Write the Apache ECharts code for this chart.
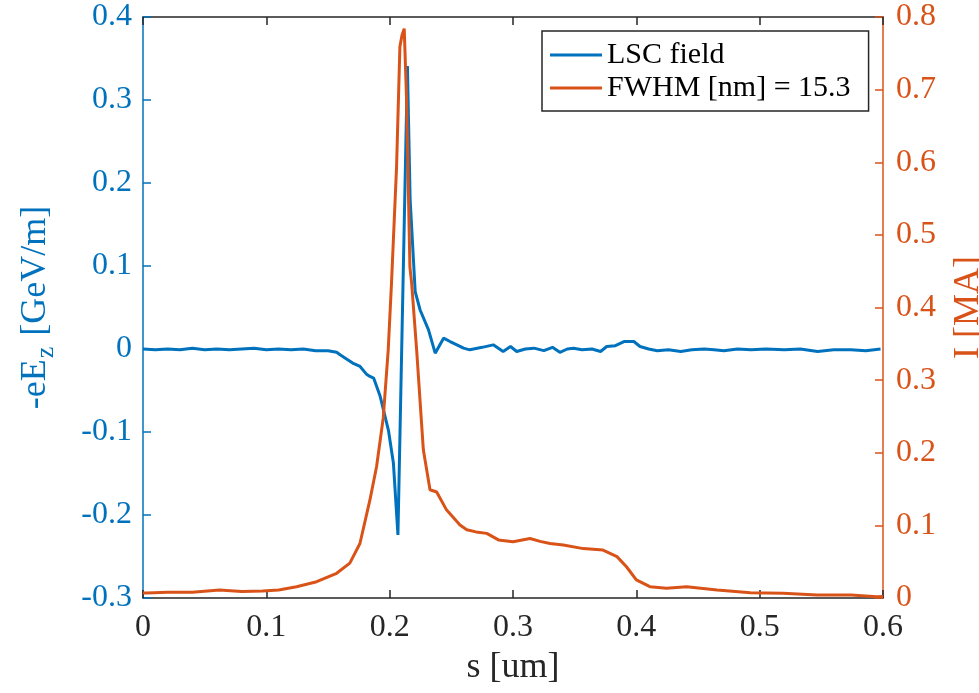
<!DOCTYPE html>
<html>
<head>
<meta charset="utf-8">
<script src="https://cdn.jsdelivr.net/npm/echarts@6/dist/echarts.min.js"></script>
<style>
html,body{margin:0;padding:0;background:#fff;}
#chart{width:979px;height:693px;}
</style>
</head>
<body>
<div id="chart"></div>
<script>
// ---- data ----
const fieldS = [0, 0.01, 0.02, 0.03, 0.04, 0.05, 0.06, 0.07, 0.08, 0.09, 0.10, 0.11, 0.12, 0.13, 0.14, 0.15, 0.157, 0.1598, 0.165, 0.170, 0.176, 0.181, 0.184, 0.187, 0.1923, 0.199, 0.203, 0.2067, 0.2144, 0.2166, 0.2207, 0.2247, 0.2315, 0.2369, 0.2437, 0.249, 0.2545, 0.2599, 0.265, 0.275, 0.284, 0.292, 0.298, 0.303, 0.310, 0.317, 0.325, 0.332, 0.338, 0.344, 0.349, 0.356, 0.364, 0.371, 0.376, 0.383, 0.390, 0.398, 0.403, 0.410, 0.417, 0.426, 0.436, 0.445, 0.455, 0.463, 0.471, 0.482, 0.493, 0.505, 0.520, 0.533, 0.547, 0.560, 0.574, 0.586, 0.598];
const fieldV = [0.000, -0.001, 0.000, -0.001, 0.001, -0.001, 0.000, -0.001, 0.000, 0.001, -0.001, 0.000, -0.001, 0.000, -0.002, -0.002, -0.004, -0.007, -0.012, -0.017, -0.021, -0.030, -0.033, -0.035, -0.057, -0.098, -0.137, -0.224, 0.341, 0.180, 0.069, 0.047, 0.023, -0.005, 0.013, 0.009, 0.005, 0.001, -0.001, 0.002, 0.005, -0.003, 0.003, -0.003, 0.000, 0.001, -0.002, 0.002, -0.004, 0.000, 0.001, -0.001, 0.000, -0.003, 0.003, 0.004, 0.009, 0.009, 0.003, 0.000, -0.002, -0.001, -0.003, -0.001, 0.000, -0.001, -0.002, 0.000, -0.001, 0.000, -0.001, 0.000, -0.003, -0.001, -0.001, -0.002, 0.000];

const currentS = [0, 0.003, 0.02, 0.04, 0.062, 0.08, 0.097, 0.11, 0.1245, 0.1408, 0.157, 0.1677, 0.1759, 0.184, 0.1894, 0.1948, 0.1988, 0.2015, 0.2056, 0.2083, 0.210, 0.2118, 0.2137, 0.2164, 0.2178, 0.2219, 0.2273, 0.2327, 0.2381, 0.2462, 0.2520, 0.2570, 0.2625, 0.2700, 0.2787, 0.2882, 0.300, 0.3138, 0.322, 0.330, 0.3408, 0.357, 0.365, 0.373, 0.3843, 0.392, 0.400, 0.411, 0.4245, 0.4408, 0.4655, 0.4925, 0.519, 0.5466, 0.574, 0.595, 0.600];
const currentV = [0.007, 0.007, 0.008, 0.008, 0.011, 0.009, 0.0096, 0.011, 0.0156, 0.0224, 0.034, 0.048, 0.075, 0.135, 0.181, 0.248, 0.341, 0.434, 0.594, 0.759, 0.775, 0.784, 0.686, 0.456, 0.434, 0.341, 0.204, 0.149, 0.146, 0.121, 0.110, 0.1005, 0.094, 0.091, 0.089, 0.080, 0.0775, 0.082, 0.078, 0.075, 0.073, 0.068, 0.067, 0.066, 0.057, 0.043, 0.025, 0.0156, 0.0134, 0.0156, 0.011, 0.0073, 0.0065, 0.0041, 0.0041, 0.0018, 0.002];

const legendNames = ['LSC field', 'FWHM [nm] = 15.3'];

const BLUE = '#0072BD';
const ORANGE = '#D95319';
const DARK = '#262626';
const FONT = '"Liberation Serif", "Times New Roman", serif';

const fieldData = fieldS.map((s, i) => [s, fieldV[i]]);
const currentData = currentS.map((s, i) => [s, currentV[i]]);

const chart = echarts.init(document.getElementById('chart'), null, {renderer: 'canvas'});
chart.setOption({
  animation: false,
  backgroundColor: '#ffffff',
  grid: {left: 143, right: 96, top: 17, bottom: 95, containLabel: false, outerBoundsMode: 'none'},
  legend: {
    data: legendNames.map(n => ({name: n, icon: 'rect'})),
    orient: 'vertical',
    left: 542,
    top: 31,
    itemWidth: 52,
    itemHeight: 3,
    itemGap: 3,
    itemTextGap: 5,
    padding: [9, 18, 8, 8],
    backgroundColor: '#ffffff',
    borderColor: DARK,
    borderWidth: 1.5,
    textStyle: {fontFamily: FONT, fontSize: 30, color: '#000', lineHeight: 30}
  },
  xAxis: [
    {
      type: 'value', min: 0, max: 0.6, interval: 0.1, position: 'bottom',
      axisLine: {show: true, onZero: false, lineStyle: {color: DARK, width: 1.5}},
      axisTick: {show: true, inside: true, length: 8, lineStyle: {color: DARK, width: 1.5}},
      axisLabel: {fontFamily: FONT, fontSize: 32, color: DARK, margin: 14},
      splitLine: {show: false},
      name: 's [um]', nameLocation: 'middle', nameGap: 52,
      nameTextStyle: {fontFamily: FONT, fontSize: 36, color: DARK}
    },
    {
      type: 'value', min: 0, max: 0.6, interval: 0.1, position: 'top',
      axisLine: {show: true, onZero: false, lineStyle: {color: DARK, width: 1.5}},
      axisTick: {show: true, inside: true, length: 8, lineStyle: {color: DARK, width: 1.5}},
      axisLabel: {show: false},
      splitLine: {show: false}
    }
  ],
  yAxis: [
    {
      type: 'value', min: -0.3, max: 0.4, interval: 0.1, position: 'left',
      axisLine: {show: true, onZero: false, lineStyle: {color: BLUE, width: 1.5}},
      axisTick: {show: true, inside: true, length: 8, lineStyle: {color: BLUE, width: 1.5}},
      axisLabel: {fontFamily: FONT, fontSize: 32, color: BLUE, margin: 11},
      splitLine: {show: false},
      name: '{n|-eE}{sub|z}{n| [GeV/m]}', nameLocation: 'middle', nameRotate: 90, nameGap: 84,
      nameTextStyle: {
        fontFamily: FONT, fontSize: 36, color: BLUE,
        rich: {
          n: {fontFamily: FONT, fontSize: 36, color: BLUE},
          sub: {fontFamily: FONT, fontSize: 26, color: BLUE, padding: [20, 2, 0, 1]}
        }
      }
    },
    {
      type: 'value', min: 0, max: 0.8, interval: 0.1, position: 'right',
      axisLine: {show: true, onZero: false, lineStyle: {color: ORANGE, width: 1.5}},
      axisTick: {show: true, inside: true, length: 8, lineStyle: {color: ORANGE, width: 1.5}},
      axisLabel: {fontFamily: FONT, fontSize: 32, color: ORANGE, margin: 13},
      splitLine: {show: false},
      name: 'I [MA]', nameLocation: 'middle', nameRotate: 90, nameGap: 68,
      nameTextStyle: {fontFamily: FONT, fontSize: 36, color: ORANGE}
    }
  ],
  series: [
    {
      name: legendNames[0], type: 'line', xAxisIndex: 0, yAxisIndex: 0,
      data: fieldData, symbol: 'none', showSymbol: false,
      lineStyle: {color: BLUE, width: 3}, itemStyle: {color: BLUE}, z: 3
    },
    {
      name: legendNames[1], type: 'line', xAxisIndex: 0, yAxisIndex: 1,
      data: currentData, symbol: 'none', showSymbol: false,
      lineStyle: {color: ORANGE, width: 3}, itemStyle: {color: ORANGE}, z: 4
    }
  ]
});
</script>
</body>
</html>
